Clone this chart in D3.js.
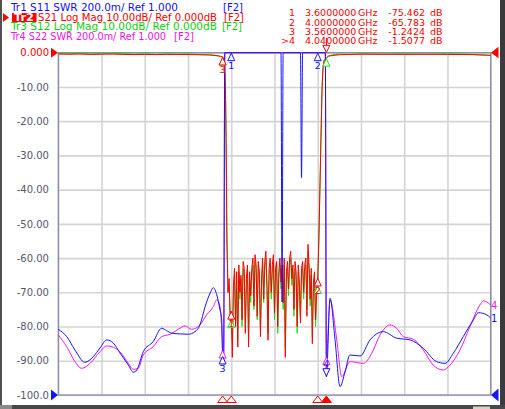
<!DOCTYPE html>
<html><head><meta charset="utf-8">
<script src="https://cdn.jsdelivr.net/npm/d3@7"></script>
<style>html,body{margin:0;padding:0;background:#fff;}svg{display:block;font-family:"DejaVu Sans",sans-serif;}</style>
</head><body>
<svg id="c" width="505" height="409"></svg>
<script>
// ---------- data ----------
const freqTicks = [2.8,3.0,3.2,3.4,3.6,3.8,4.0,4.2,4.4,4.6,4.8];
const dbTicks = [0,-10,-20,-30,-40,-50,-60,-70,-80,-90,-100];
const dbTickLabels = ["0.000","-10.00","-20.00","-30.00","-40.00","-50.00","-60.00","-70.00","-80.00","-90.00","-100.0"];

// S21 / S12 (dB) pass-band edges
const edgeLeftFreqs = [2.80,2.85,2.90,2.95,3.00,3.05,3.10,3.15,3.20,3.25,3.30,3.35,3.40,3.45,3.50,3.52,3.54,3.55,3.56,3.565,3.570,3.572,3.574,3.576,3.578,3.580,3.585,3.590,3.595];
const s21LeftVals = [-0.40,-0.45,-0.40,-0.50,-0.45,-0.40,-0.50,-0.55,-0.50,-0.55,-0.50,-0.50,-0.55,-0.60,-0.70,-0.80,-0.95,-1.05,-1.24,-1.8,-3.5,-8,-14,-25,-40,-55,-70,-66,-78];
const s12LeftVals = [-0.15,-0.35,-0.15,-0.40,-0.20,-0.30,-0.20,-0.45,-0.25,-0.50,-0.30,-0.45,-0.30,-0.55,-0.50,-0.70,-0.90,-1.1,-1.3,-1.8,-3.5,-8,-14,-25,-40,-55,-70,-68,-76];
const edgeRightFreqs = [4.005,4.010,4.015,4.020,4.025,4.030,4.040,4.050,4.070,4.10,4.15,4.20,4.30,4.40,4.50,4.60,4.70,4.75,4.80];
const s21RightVals = [-55,-40,-25,-10,-4,-2.2,-1.51,-1.0,-0.8,-0.6,-0.5,-0.45,-0.45,-0.5,-0.45,-0.5,-0.55,-0.6,-0.75];
const s12RightVals = [-55,-40,-25,-10,-4,-2.2,-1.6,-1.0,-0.6,-0.4,-0.55,-0.3,-0.5,-0.3,-0.5,-0.3,-0.45,-0.7,-0.8];

// stop band: sweep points from 3.600 GHz every 0.005 GHz
const stopStart = 3.600, stopStep = 0.005;
const s21Stop = [
-75.5,-89,-68,-63,-80,-64,-86,-62,-70,-65,
-78,-61,-63,-82,-66,-62,-86,-64,-71,-63,
-60,-74,-59,-62,-77,-61,-64,-83,-66,-60,
-72,-61,-58,-67,-84,-63,-60,-70,-62,-59,
-76,-63,-61,-80,-64,-60,-67,-62,-73,-60,
-89,-64,-61,-69,-60,-58,-66,-62,-75,-61,
-64,-80,-62,-67,-79,-63,-61,-70,-62,-60,
-77,-56,-62,-72,-63,-85,-67,-64,-78,-69,
-65.8];
const s12Stop = [
-78,-84,-70,-65,-79,-66,-84,-64,-72,-66,
-80,-63,-65,-80,-68,-63,-84,-66,-73,-64,
-62,-75,-61,-63,-78,-62,-66,-81,-68,-62,
-73,-63,-60,-69,-82,-65,-62,-72,-64,-61,
-78,-65,-62,-82,-66,-62,-69,-63,-75,-62,
-86,-66,-63,-71,-62,-60,-68,-64,-77,-63,
-66,-82,-64,-69,-77,-65,-63,-72,-64,-62,
-75,-58,-64,-74,-65,-83,-69,-66,-80,-71,
-68];

// S11 SWR
const s11Freqs = [2.800,2.839,2.877,2.923,2.962,2.993,3.024,3.054,3.085,3.124,3.147,3.163,3.193,3.239,3.278,3.301,3.325,3.363,3.401,3.432,3.455,3.479,3.502,3.517,3.533,3.548,3.556,3.560,3.565,3.570,3.580,3.830,3.835,3.840,3.920,3.925,3.930,4.030,4.035,4.040,4.057,4.080,4.103,4.126,4.149,4.196,4.242,4.303,4.365,4.427,4.488,4.550,4.589,4.627,4.673,4.720,4.743,4.782,4.800];
const s11Vals = [1.384,1.341,1.263,1.191,1.224,1.275,1.322,1.304,1.246,1.175,1.133,1.146,1.253,1.312,1.390,1.376,1.361,1.357,1.355,1.370,1.409,1.516,1.595,1.627,1.585,1.497,1.439,1.228,1.25,12,25,25,1.544,25,25,2.27,25,25,9,1.107,1.565,1.322,1.049,1.134,1.234,1.228,1.322,1.370,1.332,1.322,1.273,1.195,1.185,1.244,1.341,1.439,1.481,1.468,1.449];
// S22 SWR
const s22Freqs = [2.800,2.839,2.877,2.908,2.947,2.993,3.024,3.054,3.085,3.124,3.147,3.170,3.193,3.239,3.278,3.317,3.355,3.386,3.417,3.455,3.486,3.517,3.533,3.548,3.556,3.560,3.565,3.570,3.580,4.030,4.035,4.040,4.057,4.088,4.111,4.149,4.211,4.250,4.288,4.334,4.365,4.396,4.442,4.488,4.534,4.581,4.612,4.658,4.704,4.750,4.766,4.800];
const s22Vals = [1.351,1.282,1.195,1.156,1.185,1.253,1.287,1.279,1.253,1.185,1.150,1.156,1.234,1.282,1.341,1.355,1.384,1.404,1.384,1.409,1.468,1.516,1.556,1.516,1.38,1.263,1.193,12,25,25,9,1.224,1.556,1.322,1.107,1.195,1.185,1.244,1.351,1.409,1.390,1.341,1.326,1.263,1.175,1.146,1.175,1.263,1.399,1.526,1.550,1.526];

const markerFreqs = [3.6, 4.0, 3.56, 4.04];
const markerNames = ["1","2","3",">4"];
const markerFreqLabels = ["3.6000000","4.0000000","3.5600000","4.0400000"];
const markerValLabels = ["-75.462","-65.783","-1.2424","-1.5077"];

const headerLines = [
  {a:"Tr1 S11 SWR 200.0m/ Ref 1.000", b:"[F2]", color:"#1010ff"},
  {a:"S21 Log Mag 10.00dB/ Ref 0.000dB", b:"[F2]", color:"#ff0000"},
  {a:"Tr3 S12 Log Mag 10.00dB/ Ref 0.000dB", b:"[F2]", color:"#10d010"},
  {a:"Tr4 S22 SWR 200.0m/ Ref 1.000", b:"[F2]", color:"#f010f0"}
];

// ---------- build ----------
const svg = d3.select("#c");
const W = 505, H = 409;
const L = 58.3, R = 490.7, T = 52.7, B = 395;
const x = d3.scaleLinear().domain([2.8, 4.8]).range([L, R]);
const yDb = d3.scaleLinear().domain([-100, 0]).range([B, T]).clamp(true);
const ySwr = d3.scaleLinear().domain([1.0, 3.0]).range([B, T]).clamp(true);

const C = {blue:"#1414ff", red:"#ff0000", green:"#18e018", mag:"#f018f0"};

svg.append("rect").attr("width", W).attr("height", H).attr("fill", "#fff");
svg.append("rect").attr("x",0).attr("y",0).attr("width",2).attr("height",H).attr("fill","#505050");
svg.append("rect").attr("x",500).attr("y",0).attr("width",5).attr("height",H).attr("fill","#3a3a3a");
svg.append("rect").attr("x",0).attr("y",405).attr("width",W).attr("height",4).attr("fill","#474747");
svg.append("rect").attr("x",0).attr("y",405).attr("width",12).attr("height",4).attr("fill","#8a8a8a");
svg.append("rect").attr("x",473).attr("y",406.5).attr("width",17).attr("height",2.5).attr("fill","#d8d4c0");

// grid
svg.append("g").attr("transform",`translate(0,${B})`)
  .call(d3.axisBottom(x).tickValues(freqTicks).tickSize(-(B-T)).tickFormat(""))
  .call(g=>{g.select(".domain").remove(); g.selectAll("line").attr("stroke","#d4d4d4").attr("stroke-width",1.6);});
svg.append("g").attr("transform",`translate(${L},0)`)
  .call(d3.axisLeft(yDb).tickValues(dbTicks).tickSize(-(R-L)).tickFormat(""))
  .call(g=>{g.select(".domain").remove(); g.selectAll("line").attr("stroke","#d4d4d4").attr("stroke-width",1.6);});
// frame
svg.append("rect").attr("x",L).attr("y",T).attr("width",R-L).attr("height",B-T)
  .attr("fill","none").attr("stroke","#8a8aa6").attr("stroke-width",1.3);

// y labels
svg.append("g").attr("transform","translate(49,0)")
  .call(d3.axisLeft(yDb).tickValues(dbTicks).tickFormat((d,i)=>dbTickLabels[i]).tickSize(0).tickPadding(0))
  .call(g=>{g.select(".domain").remove();
    g.attr("font-family",'"DejaVu Sans",sans-serif').attr("font-size",10);
    g.selectAll("text").attr("fill",(d,i)=>i===0?C.red:"#55556e");});

// traces data
const stopFreqs = s21Stop.map((_, i) => +(stopStart + i*stopStep).toFixed(4));
const zip = (fs, vs) => fs.map((f,i)=>[f, vs[i]]);
const s21 = zip(edgeLeftFreqs, s21LeftVals).concat(zip(stopFreqs, s21Stop), zip(edgeRightFreqs, s21RightVals));
const s12 = zip(edgeLeftFreqs, s12LeftVals).concat(zip(stopFreqs, s12Stop), zip(edgeRightFreqs, s12RightVals));
const s11 = zip(s11Freqs, s11Vals);
const s22 = zip(s22Freqs, s22Vals);

const lineDb = d3.line().x(d=>x(d[0])).y(d=>yDb(d[1]));
const lineSwr = d3.line().x(d=>x(d[0])).y(d=>ySwr(d[1])).curve(d3.curveMonotoneX);

const traces = [
  {data:s22, y:ySwr, gen:lineSwr, color:C.mag, label:"4", hideTop:true},
  {data:s12, y:yDb, gen:lineDb, color:C.green, noNum:true},
  {data:s21, y:yDb, gen:lineDb, color:C.red, active:true},
  {data:s11, y:ySwr, gen:lineSwr, color:C.blue, label:"1"}
];
traces.forEach(t=>{
  svg.append("path").datum(t.data).attr("d", t.gen).attr("fill","none")
    .attr("stroke", t.color).attr("stroke-width", 1).attr("stroke-linejoin","round");
});

function valAt(data, f){
  const i = d3.bisector(d=>d[0]).left(data, f);
  if (i >= data.length) return data[data.length-1][1];
  if (data[i][0] === f || i === 0) return data[i][1];
  const a = data[i-1], b = data[i];
  return a[1] + (b[1]-a[1])*(f-a[0])/(b[0]-a[0]);
}

// markers on traces
traces.forEach(t=>{
  markerFreqs.forEach((f,k)=>{
    const px = x(f), py = t.y(valAt(t.data, f));
    if (t.hideTop && py <= T + 0.5) return;
    if (t.active && k === 3) {
      svg.append("path").attr("d",`M${px},${py-5.5}L${px-3.5},${py-12.5}L${px+3.5},${py-12.5}Z`)
        .attr("fill","#fff").attr("stroke",t.color).attr("stroke-width",1);
      svg.append("line").attr("x1",px).attr("x2",px).attr("y1",py-20).attr("y2",py-12.5).attr("stroke",t.color);
    } else if (py + 20 > B) {
      svg.append("path").attr("d",`M${px},${py-0.5}L${px-3.5},${py-8}L${px+3.5},${py-8}Z`)
        .attr("fill","#fff").attr("stroke",t.color).attr("stroke-width",1);
      if (!t.noNum) svg.append("text").attr("x",px).attr("y",py-10).attr("text-anchor","middle")
        .attr("font-size",9.5).attr("fill",t.color).text(String(k+1));
    } else {
      svg.append("path").attr("d",`M${px},${py+0.5}L${px-3.5},${py+8}L${px+3.5},${py+8}Z`)
        .attr("fill","#fff").attr("stroke",t.color).attr("stroke-width",1);
      if (!t.noNum) svg.append("text").attr("x",px).attr("y",py+16).attr("text-anchor","middle")
        .attr("font-size",9.5).attr("fill",t.color).text(String(k+1));
    }
  });
  if (t.label) {
    const last = t.data[t.data.length-1];
    svg.append("text").attr("x",491).attr("y",t.y(last[1])+4).attr("font-size",10)
      .attr("fill",t.color).text(t.label);
  }
});

// stimulus marker triangles at bottom
markerFreqs.forEach((f,k)=>{
  const px = x(f);
  svg.append("path").attr("d",`M${px},396L${px-5},402.5L${px+5},402.5Z`)
    .attr("fill", k===3?C.red:"#fff").attr("stroke",C.red).attr("stroke-width",1);
});

// reference position triangles
svg.append("path").attr("d",`M51,${T-5}L58,${T}L51,${T+5}Z`).attr("fill",C.red);
svg.append("path").attr("d",`M51,${B-5.5}L58,${B}L51,${B+5.5}Z`).attr("fill",C.blue);
svg.append("path").attr("d",`M498.5,${T-6}L491,${T}L498.5,${T+5.5}Z`).attr("fill",C.red);
svg.append("path").attr("d",`M498.5,${B-6.5}L491,${B}L498.5,${B+6.5}Z`).attr("fill",C.blue);

// header
const baseY = [11, 20.7, 30.2, 39.8];
const partA = [{x:11,len:167},{x:38,len:179},{x:11,len:206},{x:11,len:155}];
const partB = [223, 224, 222, 174];
headerLines.forEach((h,i)=>{
  svg.append("text").attr("x",partA[i].x).attr("y",baseY[i]).attr("font-size",10)
    .attr("fill",h.color).attr("textLength",partA[i].len).attr("lengthAdjust","spacingAndGlyphs").text(h.a);
  svg.append("text").attr("x",partB[i]).attr("y",baseY[i]).attr("font-size",10)
    .attr("fill",h.color).text(h.b);
});
svg.append("rect").attr("x",12).attr("y",13).attr("width",24.5).attr("height",9).attr("fill",C.red);
svg.append("text").attr("x",14).attr("y",21).attr("font-size",10).attr("font-weight","bold")
  .attr("fill","#fff").attr("textLength",20).attr("lengthAdjust","spacingAndGlyphs").text("Tr2");
svg.append("path").attr("d","M3,13L9,17.5L3,22Z").attr("fill",C.red);

// marker table
const tblY = [16, 25.6, 35, 44.4];
markerNames.forEach((n,i)=>{
  const g = svg.append("g").attr("font-size",9.5).attr("fill",C.red);
  g.append("text").attr("x",295).attr("y",tblY[i]).attr("text-anchor","end").text(n);
  g.append("text").attr("x",305).attr("y",tblY[i]).text(markerFreqLabels[i]);
  g.append("text").attr("x",358).attr("y",tblY[i]).text("GHz");
  g.append("text").attr("x",425).attr("y",tblY[i]).attr("text-anchor","end").text(markerValLabels[i]);
  g.append("text").attr("x",430).attr("y",tblY[i]).text("dB");
});
</script>
</body></html>
